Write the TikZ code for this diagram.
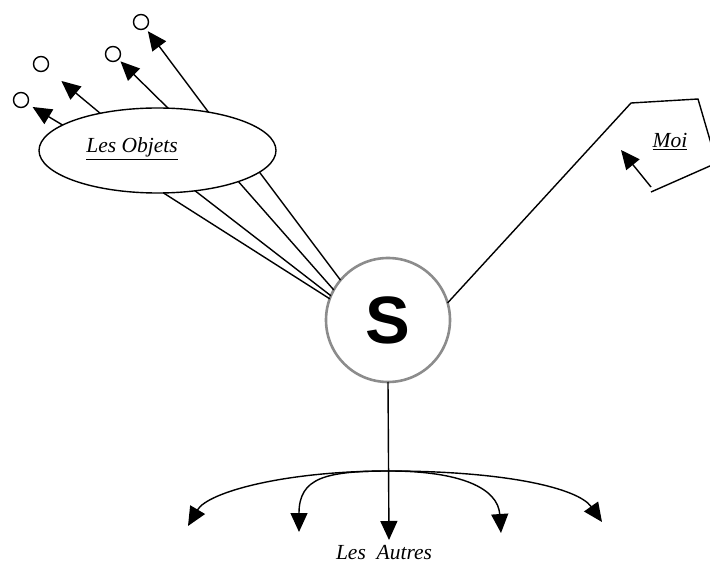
\documentclass[tikz,border=0pt]{standalone}
\usepackage{fontspec}
\setmainfont{Liberation Serif}
\newfontfamily\headfont{Liberation Sans}
\usetikzlibrary{arrows.meta,shapes.geometric}

\tikzset{
  wire/.style={line width=1.4pt, black},
  pointer/.style={wire, -{Triangle[length=19pt,width=17pt]}},
  tag/.style={font=\fontsize{21.5}{24}\selectfont\itshape, inner sep=0pt, anchor=base},
  bubble/.style={draw, circle, line width=1.4pt, minimum size=15pt, inner sep=0pt, outer sep=0pt},
  subject/.style={draw=black!45, line width=2.6pt, circle, minimum size=124pt, inner sep=0pt, outer sep=0pt,
    font=\headfont\bfseries\fontsize{67}{70}\selectfont},
  cloud/.style={draw, ellipse, line width=1.4pt, minimum width=237pt, minimum height=85pt, inner sep=0pt, outer sep=0pt}
}

\begin{document}
\begin{tikzpicture}[x=1pt,y=-1pt]
  \useasboundingbox (0,0) rectangle (710,564);
  \clip (0,0) rectangle (710,564);

  % central subject
  \node[subject] (S) at (388,320) {S};

  % the objects
  \node[cloud] (objets) at (157.5,150.5) {};
  \node[tag] (objlbl) at (132,153) {\underline{Les Objets}};
  \node[bubble] (o1) at (21,100) {};
  \node[bubble] (o2) at (41,64) {};
  \node[bubble] (o3) at (113,54) {};
  \node[bubble] (o4) at (141,22) {};

  \draw[wire] (objets.-82.6) -- (S.160);
  \draw[wire] (objets.-47.2) -- (S.157);
  \draw[wire] (objets.-21.9) -- (S.151);
  \draw[wire] (objets.-12.7) -- (S.140);

  \draw[pointer, shorten >=6pt]  (objets.165.8) -- (o1);
  \draw[pointer, shorten >=19pt] (objets.147.8) -- (o2);
  \draw[pointer, shorten >=3pt]  (objets.76)    -- (o3);
  \draw[pointer, shorten >=4pt]  (objets.37.3)  -- (o4);

  % the self
  \coordinate (m1) at (631,103);
  \coordinate (m2) at (698,99);
  \coordinate (m3) at (716.7,163);
  \coordinate (m4) at (651,192);
  \draw[wire, line join=miter] (S.16) -- (m1) -- (m2) -- (m3) -- (m4);
  \node[tag] (moi) at (670,147.7) {\underline{Moi}};
  \coordinate (mstart) at (651,187);
  \coordinate (mtip) at (621,150);
  \draw[pointer] (mstart) -- (mtip);

  % the others
  \coordinate (fork) at (389,471);
  \coordinate (down) at (389,540);
  \coordinate (t1) at (188,526);
  \coordinate (t2) at (299,532);
  \coordinate (t3) at (501,533);
  \coordinate (t4) at (602,522);
  \draw[pointer] (S.south) -- (down);
  \draw[pointer] (fork) .. controls (285,471) and (208,492) .. (t1);
  \draw[pointer] (fork) .. controls (325,471) and (299,478) .. (t2);
  \draw[pointer] (fork) .. controls (460,471) and (498,488) .. (t3);
  \draw[pointer] (fork) .. controls (505,471) and (578,488) .. (t4);
  \node[tag] (autres) at (384,559) {Les\ \ Autres};
\end{tikzpicture}
\end{document}
